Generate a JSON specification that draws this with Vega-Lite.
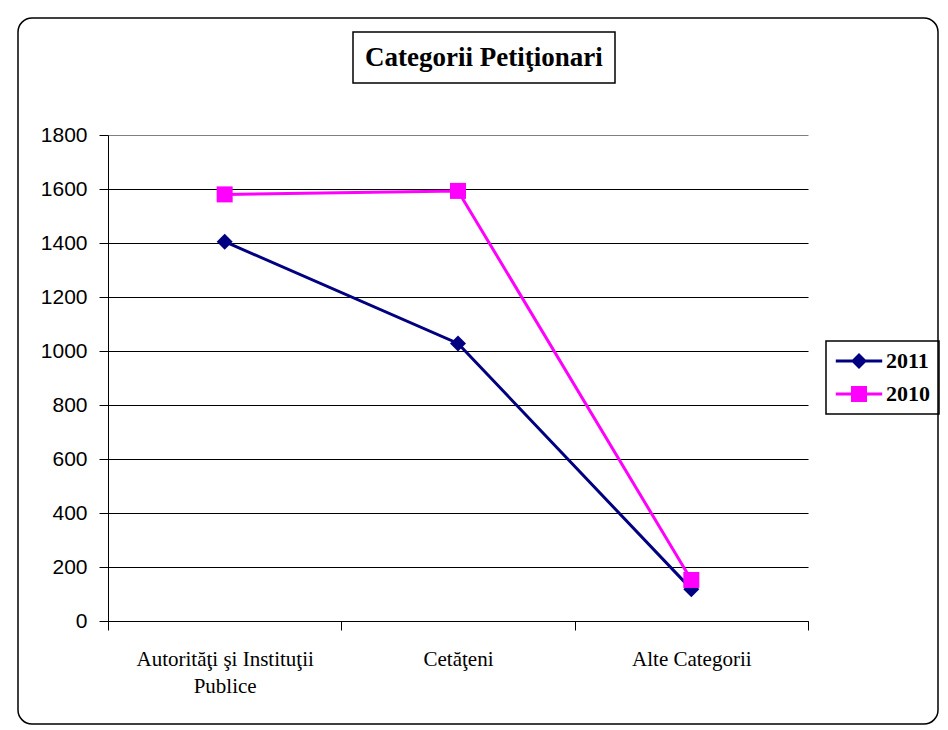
{
  "$schema": "https://vega.github.io/schema/vega-lite/v6.json",
  "width": 700,
  "height": 486,
  "autosize": {"type": "none"},
  "padding": {"left": 108, "top": 135, "right": 140, "bottom": 109},
  "background": "white",
  "config": {"view": {"stroke": null}, "legend": {"strokeWidth": 1.5}},
  "datasets": {
    "puncte": [
      {"categorie": "Autorităţi şi Instituţii Publice", "an": "2011", "valoare": 1405},
      {"categorie": "Cetăţeni", "an": "2011", "valoare": 1028},
      {"categorie": "Alte Categorii", "an": "2011", "valoare": 118},
      {"categorie": "Autorităţi şi Instituţii Publice", "an": "2010", "valoare": 1580},
      {"categorie": "Cetăţeni", "an": "2010", "valoare": 1593},
      {"categorie": "Alte Categorii", "an": "2010", "valoare": 152}
    ],
    "titlu": [
      {"categorie": "Autorităţi şi Instituţii Publice", "valoare": 0, "titlu": "Categorii Petiţionari", "umbra": "Categorii Petiţionari "}
    ],
    "cadru": [
      {"categorie": "Autorităţi şi Instituţii Publice", "valoare": 0, "f": 0},
      {"categorie": "Autorităţi şi Instituţii Publice", "valoare": 0, "f": 1}
    ]
  },
  "encoding": {
    "x": {
      "field": "categorie",
      "type": "nominal",
      "sort": ["Autorităţi şi Instituţii Publice", "Cetăţeni", "Alte Categorii"],
      "scale": {"type": "band", "paddingInner": 0, "paddingOuter": 0},
      "axis": {
        "title": null,
        "labelAngle": 0,
        "tickBand": "extent",
        "domainColor": "black",
        "tickColor": "black",
        "tickSize": 9,
        "labelFont": "Liberation Serif",
        "labelFontSize": 21,
        "labelColor": "black",
        "labelPadding": 18,
        "labelLineHeight": 27,
        "labelLimit": 0,
        "labelExpr": "datum.label == 'Autorităţi şi Instituţii Publice' ? ['Autorităţi şi Instituţii', 'Publice'] : datum.label",
        "grid": false
      }
    },
    "y": {
      "field": "valoare",
      "type": "quantitative",
      "scale": {"domain": [0, 1800], "nice": false},
      "axis": {
        "title": null,
        "format": "d",
        "values": [0, 200, 400, 600, 800, 1000, 1200, 1400, 1600, 1800],
        "grid": true,
        "gridColor": {"condition": {"test": "datum.value === 1800", "value": "#808080"}, "value": "black"},
        "gridOpacity": 1,
        "domainColor": "black",
        "tickColor": "black",
        "tickSize": 9,
        "labelFont": "Liberation Sans",
        "labelFontSize": 21,
        "labelColor": "black",
        "labelPadding": 12
      }
    }
  },
  "layer": [
    {
      "data": {"name": "puncte"},
      "mark": {"type": "line", "strokeWidth": 3},
      "encoding": {
        "color": {
          "field": "an",
          "type": "nominal",
          "scale": {"domain": ["2011", "2010"], "range": ["#000080", "#FF00FF"]},
          "legend": {
            "title": null,
            "orient": "none",
            "legendX": 718,
            "legendY": 206,
            "fillColor": "white",
            "strokeColor": "black",
            "padding": 9,
            "labelFont": "Liberation Serif",
            "labelFontWeight": "bold",
            "labelFontSize": 22,
            "labelColor": "black",
            "symbolSize": 256,
            "symbolOffset": 13,
            "labelOffset": 16,
            "rowPadding": 11,
            "symbolStrokeWidth": 0,
            "symbolOpacity": 1,
            "encode": {
              "symbols": {
                "enter": {
                  "shape": {"signal": "datum.value === '2011' ? 'M-2.9,-0.19H2.9V0.19H-2.9Z M0,-1L1,0L0,1L-1,0Z' : 'M-2.9,-0.19H2.9V0.19H-2.9Z M-1,-1H1V1H-1Z'"}
                },
                "update": {
                  "shape": {"signal": "datum.value === '2011' ? 'M-2.9,-0.19H2.9V0.19H-2.9Z M0,-1L1,0L0,1L-1,0Z' : 'M-2.9,-0.19H2.9V0.19H-2.9Z M-1,-1H1V1H-1Z'"},
                  "fill": {"signal": "datum.value === '2011' ? '#000080' : '#FF00FF'"}
                }
              }
            }
          }
        }
      }
    },
    {
      "data": {"name": "puncte"},
      "mark": {"type": "point", "filled": true, "size": 256, "opacity": 1},
      "encoding": {
        "color": {"field": "an", "type": "nominal"},
        "shape": {"condition": {"test": "datum.an === '2011'", "value": "diamond"}, "value": "square"}
      }
    },
    {
      "data": {"name": "titlu"},
      "mark": {"type": "point", "filled": true},
      "encoding": {
        "opacity": {
          "field": "umbra",
          "type": "nominal",
          "scale": {"range": [0, 0]},
          "legend": {
            "title": null,
            "orient": "none",
            "legendX": 250,
            "legendY": -98,
            "fillColor": "black",
            "strokeColor": "black",
            "padding": 12,
            "labelFont": "Liberation Serif",
            "labelFontWeight": "bold",
            "labelFontSize": 27,
            "labelColor": "black",
            "labelLimit": 0,
            "symbolOpacity": 0,
            "symbolSize": 1,
            "symbolStrokeWidth": 0,
            "labelOffset": -27
          }
        }
      }
    },
    {
      "data": {"name": "titlu"},
      "mark": {"type": "line", "opacity": 0},
      "encoding": {
        "strokeDash": {
          "field": "titlu",
          "type": "nominal",
          "legend": {
            "title": null,
            "orient": "none",
            "legendX": 245,
            "legendY": -103,
            "fillColor": "white",
            "strokeColor": "black",
            "padding": 12,
            "labelFont": "Liberation Serif",
            "labelFontWeight": "bold",
            "labelFontSize": 27,
            "labelColor": "black",
            "labelLimit": 0,
            "symbolOpacity": 0,
            "symbolSize": 1,
            "symbolStrokeWidth": 0,
            "labelOffset": -27
          }
        }
      }
    },
    {
      "data": {"name": "cadru"},
      "mark": {"type": "point", "filled": true, "opacity": 0},
      "encoding": {
        "fill": {
          "field": "f",
          "type": "quantitative",
          "scale": {"range": ["#ffffff00", "#ffffff00"]},
          "legend": {
            "title": null,
            "orient": "none",
            "legendX": -90,
            "legendY": -117,
            "direction": "horizontal",
            "gradientLength": 920,
            "gradientThickness": 705,
            "labelOpacity": 0,
            "labelFontSize": 1,
            "labelOffset": 0,
            "padding": 0,
            "strokeColor": "black",
            "cornerRadius": 14,
            "gradientStrokeWidth": 0
          }
        }
      }
    }
  ]
}
